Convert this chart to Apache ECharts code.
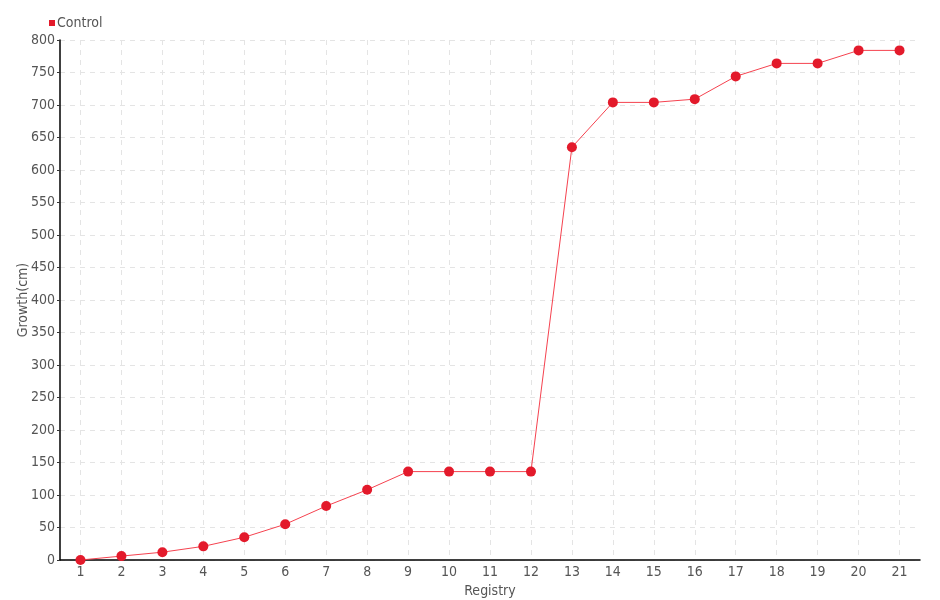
<!DOCTYPE html>
<html>
<head>
<meta charset="utf-8">
<script src="https://cdn.jsdelivr.net/npm/echarts@6/dist/echarts.min.js"></script>
<style>
  html, body { margin: 0; padding: 0; background: #fff; }
  #chart { width: 940px; height: 600px; }
</style>
</head>
<body>
<div id="chart"></div>
<script>
const registry = ['1', '2', '3', '4', '5', '6', '7', '8', '9', '10', '11',
  '12', '13', '14', '15', '16', '17', '18', '19', '20', '21']
const control = [0, 6, 12, 21, 35, 55, 83, 108, 136, 136, 136,
  136, 635, 704, 704, 709, 744, 764, 764, 784, 784]

const font = "'Liberation Sans Narrow', 'DejaVu Sans Condensed', sans-serif"

let chart = echarts.init(document.getElementById('chart'))

chart.setOption({
  textStyle: {fontFamily: font},
  legend: {
    left: 44,
    top: 11,
    icon: 'rect',
    itemWidth: 6,
    itemHeight: 6,
    itemGap: 4,
    textStyle: {fontFamily: font, fontSize: 14, color: '#555', padding: [0, 0, 0, -3]},
    data: ['Control']
  },
  grid: {left: 60, right: 20, top: 40, bottom: 40, outerBoundsMode: 'none'},
  xAxis: {
    type: 'category',
    data: registry,
    name: 'Registry',
    nameLocation: 'middle',
    nameGap: 15,
    nameTextStyle: {fontFamily: font, fontSize: 14, color: '#555'},
    axisLine: {lineStyle: {color: '#000', width: 1.5}},
    axisTick: {show: false},
    axisLabel: {fontFamily: font, fontSize: 14, color: '#555', margin: 5},
    splitLine: {
      show: true,
      alignWithLabel: true,
      lineStyle: {color: '#e4e4e4', type: [5, 5]}
    }
  },
  yAxis: {
    type: 'value',
    min: 0,
    max: 800,
    interval: 50,
    name: 'Growth(cm)',
    nameLocation: 'middle',
    nameGap: 30,
    nameMoveOverlap: false,
    nameTextStyle: {fontFamily: font, fontSize: 14, color: '#555'},
    axisLine: {show: true, lineStyle: {color: '#000', width: 1.5}},
    axisTick: {show: true, length: 3, lineStyle: {color: '#333'}},
    axisLabel: {fontFamily: font, fontSize: 14, color: '#555', margin: 5},
    splitLine: {lineStyle: {color: '#e4e4e4', type: [5, 5]}}
  },
  series: [
    {
      name: 'Control',
      type: 'line',
      data: control,
      symbol: 'circle',
      symbolSize: 10,
      itemStyle: {color: '#e31a2b'},
      lineStyle: {color: '#f5424f', width: 1},
      animation: false
    }
  ]
})
</script>
</body>
</html>
